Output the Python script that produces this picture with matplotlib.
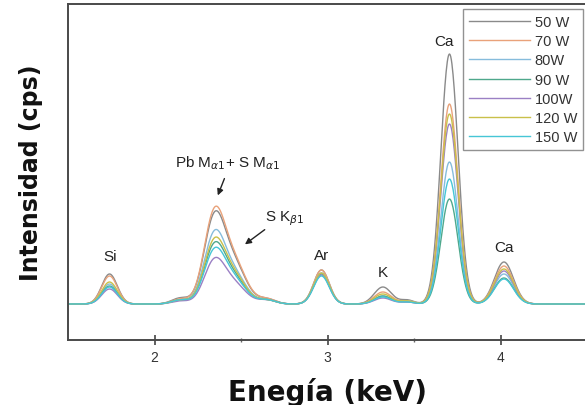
import numpy as np
import matplotlib
matplotlib.use("Agg")
import matplotlib.pyplot as plt
from matplotlib.ticker import FixedLocator

# ---- data (intensities in arbitrary units above baseline) ----
series_labels = ["50 W", "70 W", "80W", "90 W", "100W", "120 W", "150 W"]
series_colors = ["#8a8a8a", "#e9a27a", "#86bcdc", "#4fa88c", "#9b80c4", "#c9c04a", "#46c6d6"]

peak_names = ["Si", "bump1", "Pb", "SKb", "bump2", "Ar", "K", "bump3", "CaKa", "CaKb"]
peak_centers = [1.74, 2.15, 2.345, 2.46, 2.65, 2.965, 3.32, 3.46, 3.705, 4.02]
peak_sigmas = [0.045, 0.05, 0.06, 0.07, 0.05, 0.045, 0.05, 0.04, 0.05, 0.055]

# peak heights per series, same order as peak_names
h_50 = [30, 6, 82, 38, 5, 34, 17, 4, 250, 42]
h_70 = [28, 5, 86, 40, 5, 34, 12, 3, 200, 38]
h_80 = [20, 4, 66, 29, 4, 31, 8, 3, 142, 30]
h_90 = [18, 4, 55, 25, 4, 30, 8, 2, 105, 26]
h_100 = [15, 3, 41, 19, 4, 29, 6, 2, 180, 33]
h_120 = [22, 4, 59, 27, 4, 31, 10, 3, 190, 35]
h_150 = [17, 4, 50, 23, 4, 28, 7, 2, 125, 25]
heights = [h_50, h_70, h_80, h_90, h_100, h_120, h_150]

x_ticks = [2, 3, 4]
x_minor = [2.5, 3.5]

fig = plt.figure(figsize=(5.85, 4.06), dpi=100)
ax = fig.add_axes([68/585, 65/406, 519/585, 336/406])

x = np.linspace(1.5, 4.5, 900)
for lab, col, h in zip(series_labels, series_colors, heights):
    y = np.zeros_like(x)
    for c, s, a in zip(peak_centers, peak_sigmas, h):
        y += a * np.exp(-0.5 * ((x - c) / s) ** 2)
    ax.plot(x, y, color=col, lw=1.0, label=lab)

ax.set_xlim(1.5, 4.5)
ax.set_ylim(-36, 300)
ax.set_yticks([])
ax.xaxis.set_major_locator(FixedLocator(x_ticks))
ax.xaxis.set_minor_locator(FixedLocator(x_minor))
ax.tick_params(axis="x", which="major", direction="inout", length=7, width=1.2,
               colors="#444444", labelsize=10, pad=4)
ax.tick_params(axis="x", which="minor", direction="inout", length=3, width=1.0, colors="#666666")
for lbl in ax.get_xticklabels():
    lbl.set_fontfamily("Liberation Sans")
    lbl.set_color("#333333")
for sp in ax.spines.values():
    sp.set_color("#4a4a4a")
    sp.set_linewidth(1.4)

ax.set_xlabel("Enegía (keV)", fontsize=20, fontweight="bold", family="DejaVu Sans",
              color="#111111", labelpad=9)
ax.set_ylabel("Intensidad (cps)", fontsize=17, fontweight="bold", family="DejaVu Sans",
              color="#111111", labelpad=18)

ann_kw = dict(fontsize=11, family="Liberation Sans", color="#222222", ha="center", va="center")
ax.text(1.745, 48, "Si", **ann_kw)
ax.text(2.965, 49, "Ar", **ann_kw)
ax.text(3.32, 32, "K", **ann_kw)
ax.text(3.675, 263, "Ca", **ann_kw)
ax.text(4.02, 57, "Ca", **ann_kw)
ax.text(2.42, 142, r"Pb M$_{\alpha1}$+ S M$_{\alpha1}$", **ann_kw)
ax.text(2.75, 86, r"S K$_{\beta1}$", **ann_kw)
ax.annotate("", xy=(2.36, 106), xytext=(2.41, 128),
            arrowprops=dict(arrowstyle="-|>", color="#222222", lw=1.0, mutation_scale=9))
ax.annotate("", xy=(2.51, 58), xytext=(2.65, 76),
            arrowprops=dict(arrowstyle="-|>", color="#222222", lw=1.0, mutation_scale=9))

leg = ax.legend(loc="upper right", bbox_to_anchor=(0.992, 0.985), borderaxespad=0,
                fancybox=False, frameon=True, handlelength=4.2, handletextpad=0.3,
                labelspacing=0.36, borderpad=0.4,
                prop={"family": "Liberation Sans", "size": 10.5})
leg.get_frame().set_edgecolor("#777777")
leg.get_frame().set_linewidth(1.0)
for t in leg.get_texts():
    t.set_color("#333333")

fig.savefig("out.png", dpi=100)
